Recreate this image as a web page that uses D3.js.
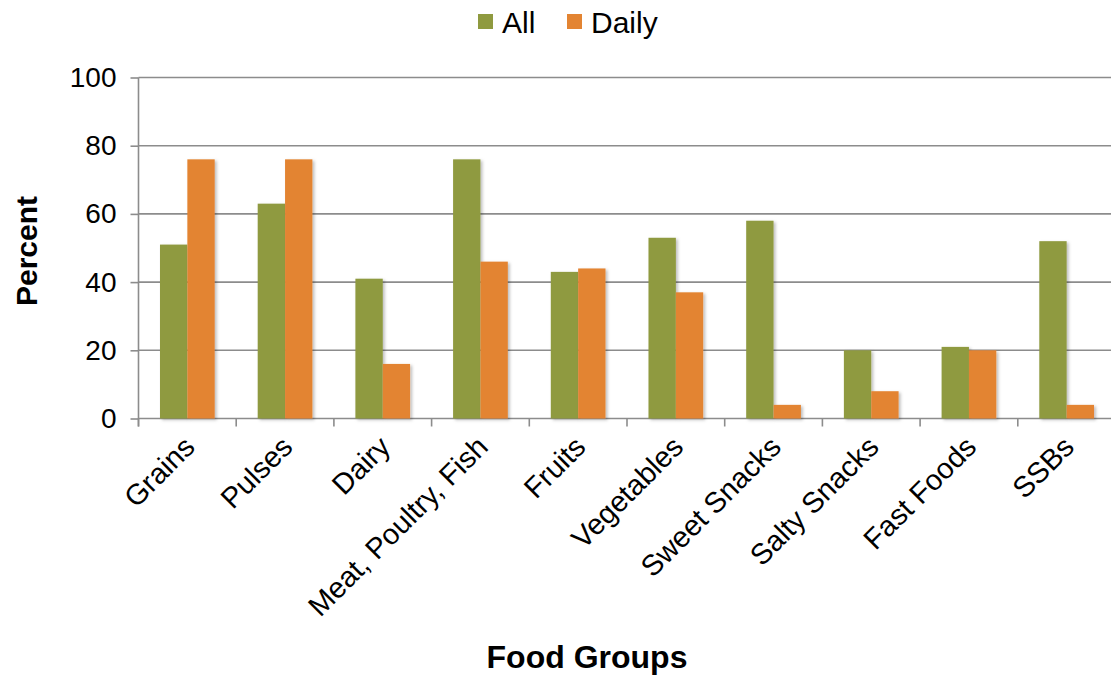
<!DOCTYPE html>
<html>
<head>
<meta charset="utf-8">
<script src="https://cdn.jsdelivr.net/npm/d3@7"></script>
<style>
  html, body { margin: 0; padding: 0; background: #fff; }
  svg { display: block; font-family: "Liberation Sans", Arial, sans-serif; }
</style>
</head>
<body>
<svg id="chart" width="1111" height="677"></svg>
<script>
const categories = ["Grains", "Pulses", "Dairy", "Meat, Poultry, Fish", "Fruits", "Vegetables", "Sweet Snacks", "Salty Snacks", "Fast Foods", "SSBs"];
const seriesNames = ["All", "Daily"];
const allValues = [51, 63, 41, 76, 43, 53, 58, 20, 21, 52];
const dailyValues = [76, 76, 16, 46, 44, 37, 4, 8, 20, 4];
const yTicks = [0, 20, 40, 60, 80, 100];
const colors = ["#8f9a3f", "#e38432"];
const xTitle = "Food Groups";
const yTitle = "Percent";

(function () {
const svg = d3.select("#chart");
const W = 1111, H = 677;
const mLeft = 138.5, mRight = 1115.5, mTop = 77.5, mBottom = 418.5;
const gridColor = "#8c8c8c";

const defs = svg.append("defs");
const f = defs.append("filter").attr("id", "shadow").attr("x", "-20%").attr("y", "-20%").attr("width", "150%").attr("height", "150%");
f.append("feDropShadow").attr("dx", 2).attr("dy", 1.5).attr("stdDeviation", 1.5).attr("flood-color", "#000").attr("flood-opacity", 0.25);

const x = d3.scaleBand().domain(categories).range([mLeft, mRight]).paddingInner(0).paddingOuter(0);
const bw = x.bandwidth();
const x1 = d3.scaleBand().domain(seriesNames).range([bw * 0.22, bw * 0.78]);
const y = d3.scaleLinear().domain([0, 100]).range([mBottom, mTop]);

// gridlines
svg.append("g").selectAll("line").data(yTicks).join("line")
  .attr("x1", mLeft).attr("x2", W)
  .attr("y1", d => y(d)).attr("y2", d => y(d))
  .attr("stroke", gridColor).attr("stroke-width", 1.6);

// y axis
const yAxis = svg.append("g").attr("transform", `translate(${mLeft},0)`)
  .call(d3.axisLeft(y).tickValues(yTicks).tickSize(8).tickPadding(14).tickFormat(d3.format("d")));
yAxis.select(".domain").remove();
yAxis.selectAll(".tick line").attr("stroke", gridColor).attr("stroke-width", 1.6);
yAxis.selectAll(".tick text").attr("font-size", 28).attr("fill", "#000")
  .attr("font-family", "'Liberation Sans', Arial, sans-serif");
svg.append("line").attr("x1", mLeft).attr("x2", mLeft).attr("y1", mTop).attr("y2", mBottom + 8)
  .attr("stroke", gridColor).attr("stroke-width", 1.6);

// bars
const data = categories.map((c, i) => ({ c, vals: [allValues[i], dailyValues[i]] }));
const groups = svg.append("g").selectAll("g").data(data).join("g")
  .attr("transform", d => `translate(${x(d.c)},0)`);
groups.selectAll("rect").data(d => d.vals.map((v, k) => ({ k, v }))).join("rect")
  .attr("x", d => x1(seriesNames[d.k]))
  .attr("width", x1.bandwidth())
  .attr("y", d => y(d.v))
  .attr("height", d => y(0) - y(d.v))
  .attr("fill", d => colors[d.k])
  .attr("filter", "url(#shadow)");

// category boundary ticks
const bounds = categories.map(c => x(c)).concat([x(categories[categories.length - 1]) + bw]);
svg.append("g").selectAll("line").data(bounds).join("line")
  .attr("x1", d => d).attr("x2", d => d)
  .attr("y1", mBottom).attr("y2", mBottom + 8)
  .attr("stroke", gridColor).attr("stroke-width", 1.6);

// x labels
const xAxis = svg.append("g").attr("transform", `translate(0,${mBottom})`)
  .call(d3.axisBottom(x).tickSize(0).tickPadding(0));
xAxis.select(".domain").remove();
xAxis.selectAll(".tick text")
  .attr("font-size", 29).attr("fill", "#000")
  .attr("font-family", "'Liberation Sans', Arial, sans-serif")
  .attr("text-anchor", "end")
  .attr("y", 0).attr("dy", "0.35em")
  .attr("transform", "translate(2,23) rotate(-45)");

// axis titles
svg.append("text").attr("x", 0).attr("y", 0)
  .attr("transform", `translate(37,251) rotate(-90)`)
  .attr("text-anchor", "middle").attr("font-weight", "bold").attr("font-size", 30)
  .attr("fill", "#000").text(yTitle);
svg.append("text").attr("x", 587).attr("y", 668)
  .attr("text-anchor", "middle").attr("font-weight", "bold").attr("font-size", 32)
  .attr("fill", "#000").text(xTitle);

// legend
const legendItems = [{ name: seriesNames[0], x: 478, tx: 502 }, { name: seriesNames[1], x: 567, tx: 591 }];
const lg = svg.append("g").selectAll("g").data(legendItems).join("g");
lg.append("rect").attr("x", d => d.x).attr("y", 14).attr("width", 15).attr("height", 15)
  .attr("fill", (d, i) => colors[i]);
lg.append("text").attr("x", d => d.tx).attr("y", 33).attr("font-size", 30).attr("fill", "#000").text(d => d.name);
})();
</script>
</body>
</html>
